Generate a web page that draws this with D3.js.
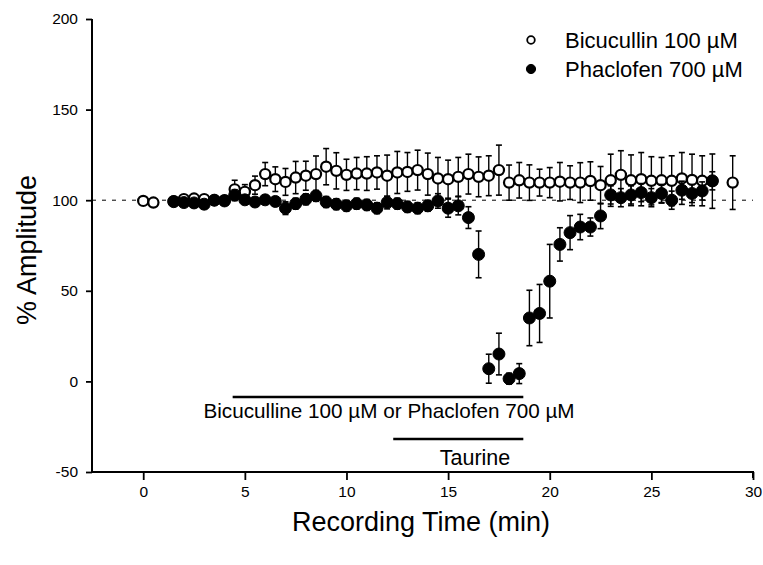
<!DOCTYPE html>
<html>
<head>
<meta charset="utf-8">
<script src="https://cdn.jsdelivr.net/npm/d3@7"></script>
<style>
  html, body { margin: 0; padding: 0; background: #fff; }
  svg { display: block; }
  text { font-family: "Liberation Sans", Arial, Helvetica, sans-serif; fill: #000; }
</style>
</head>
<body>
<svg id="chart" width="763" height="565"></svg>
<script>
// ---- Data ----
const bicTime  = [0, 0.5, 1.5, 2, 2.5, 3, 3.5, 4, 4.5, 5, 5.5, 6, 6.5, 7, 7.5, 8, 8.5, 9, 9.5, 10, 10.5, 11, 11.5, 12, 12.5, 13, 13.5, 14, 14.5, 15, 15.5, 16, 16.5, 17, 17.5, 18, 18.5, 19, 19.5, 20, 20.5, 21, 21.5, 22, 22.5, 23, 23.5, 24, 24.5, 25, 25.5, 26, 26.5, 27, 27.5, 28, 29];
const bicMean  = [99.6, 98.7, 99.5, 100.6, 100.9, 100.6, 100, 100, 106, 104.6, 108.3, 114.4, 111.6, 110.1, 112.5, 113.5, 114.4, 118.5, 116.2, 114, 114.7, 114.7, 115.3, 113.5, 115.3, 115.6, 116.6, 114.4, 112, 111.6, 112.9, 114.4, 112.9, 113.5, 116.6, 109.7, 111, 109.7, 109.7, 109.7, 110.2, 109.7, 109.7, 110.6, 108.3, 111, 114, 111, 111.6, 110.7, 111, 110.7, 112, 111.2, 110.7, 110.5, 109.7];
const bicErr   = [1, 1.5, 1, 1, 1.5, 1.5, 1.5, 1.5, 5, 4, 5, 6.4, 6.8, 7.4, 8.9, 8, 10, 10, 10, 8.6, 8.9, 9.3, 9.2, 11.4, 11.6, 10.7, 11, 11.6, 11.6, 10.5, 10.7, 11, 11, 11, 13.8, 9.7, 9.8, 9.8, 7.4, 8.3, 10.6, 9.3, 11, 10.6, 10.3, 14.4, 13.3, 14, 14.7, 13.3, 12.6, 13.8, 14.3, 14.2, 13.8, 15, 14.8];

const phaTime  = [1.5, 2, 2.5, 3, 3.5, 4, 4.5, 5, 5.5, 6, 6.5, 7, 7.5, 8, 8.5, 9, 9.5, 10, 10.5, 11, 11.5, 12, 12.5, 13, 13.5, 14, 14.5, 15, 15.5, 16, 16.5, 17, 17.5, 18, 18.5, 19, 19.5, 20, 20.5, 21, 21.5, 22, 22.5, 23, 23.5, 24, 24.5, 25, 25.5, 26, 26.5, 27, 27.5, 28];
const phaMean  = [99.2, 98.7, 98.5, 97.8, 100, 99.6, 102.8, 100.2, 99, 100.2, 99.3, 95.6, 98.1, 100.5, 102.4, 99, 97.8, 96.9, 98.1, 97.4, 95.6, 98.7, 98.1, 96.3, 95.6, 96.9, 99.6, 95.6, 96.9, 90.4, 70.1, 7.0, 15.1, 1.5, 4.3, 35, 37.5, 55.3, 75.6, 82.1, 85.2, 85.2, 91.3, 102.9, 101.4, 102.9, 104.2, 101.4, 103.7, 100, 105.5, 103.7, 105.1, 110.7];
const phaErr   = [2, 2, 2, 2.5, 2, 2, 3, 2.5, 2.5, 2.5, 2.5, 3.5, 3, 3, 3, 3, 3, 3, 3, 3, 3, 3.5, 3, 3, 3, 3, 4, 5, 5, 6, 12.9, 8, 11.5, 3, 5.5, 15.3, 16, 20.3, 9.2, 9.4, 7, 5, 7, 5, 5, 5, 5, 5, 5, 5, 5, 5, 5, 5];

const seriesLabels = ["Bicucullin 100 \u00B5M", "Phaclofen 700 \u00B5M"];
const xTicks = [0, 5, 10, 15, 20, 25, 30];
const yTicks = [-50, 0, 50, 100, 150, 200];
const xTitle = "Recording Time (min)";
const yTitle = "% Amplitude";
const barLabels = ["Bicuculline 100 \u00B5M or Phaclofen 700 \u00B5M", "Taurine"];
const barStart = [4.4, 12.3];
const barEnd = [18.7, 18.7];
const baseline = 100;

// ---- Layout ----
const svg = d3.select("#chart");
const pLeft = 92, pRight = 753, pTop = 19, pBottom = 472;
const x = d3.scaleLinear().domain([-2.52, 30]).range([pLeft, pRight]);
const y = d3.scaleLinear().domain([-50, 200]).range([pBottom, pTop]);
const fmt = d => String(d); // plain hyphen-minus like the original

// Axes
const yAxis = svg.append("g").attr("transform", `translate(${pLeft},0)`)
  .call(d3.axisLeft(y).tickValues(yTicks).tickSize(6).tickPadding(8).tickFormat(fmt));
const xAxis = svg.append("g").attr("transform", `translate(0,${pBottom})`)
  .call(d3.axisBottom(x).tickValues(xTicks).tickSize(8).tickPadding(6).tickFormat(fmt));
[yAxis, xAxis].forEach(g => {
  g.select(".domain").attr("stroke", "#000").attr("stroke-width", 2);
  g.selectAll(".tick line").attr("stroke", "#000").attr("stroke-width", 1.8);
  g.selectAll(".tick text").attr("font-size", 15.5).attr("font-family", "Liberation Sans, Arial, sans-serif").attr("fill", "#000");
});
yAxis.select(".domain").attr("d", `M0,${pTop}V${pBottom}`);
xAxis.select(".domain").attr("d", `M${pLeft},0H${pRight}V6`);

// Dashed 100 % line
svg.append("line")
  .attr("x1", pLeft).attr("x2", pRight)
  .attr("y1", y(baseline)).attr("y2", y(baseline))
  .attr("stroke", "#000").attr("stroke-width", 1).attr("stroke-dasharray", "4,6");

// Series drawing
function drawSeries(times, means, errs, filled) {
  const g = svg.append("g");
  const data = times.map((t, i) => ({ t, m: means[i], e: errs[i] }));
  const cap = 3;
  data.forEach(d => {
    if (d.e > 1.6) {
      g.append("line").attr("x1", x(d.t)).attr("x2", x(d.t))
        .attr("y1", y(d.m - d.e)).attr("y2", y(d.m + d.e))
        .attr("stroke", "#000").attr("stroke-width", 1.4);
      [d.m - d.e, d.m + d.e].forEach(v => {
        g.append("line").attr("x1", x(d.t) - cap).attr("x2", x(d.t) + cap)
          .attr("y1", y(v)).attr("y2", y(v))
          .attr("stroke", "#000").attr("stroke-width", 1.6);
      });
    }
  });
  g.selectAll("circle").data(data).enter().append("circle")
    .attr("cx", d => x(d.t)).attr("cy", d => y(d.m))
    .attr("r", filled ? 6 : 5.1)
    .attr("fill", filled ? "#000" : "#fff")
    .attr("stroke", "#000").attr("stroke-width", filled ? 1 : 2.2);
}
drawSeries(bicTime, bicMean, bicErr, false);
drawSeries(phaTime, phaMean, phaErr, true);

// Legend
const legY = [40, 69];
seriesLabels.forEach((lab, i) => {
  svg.append("circle").attr("cx", 531).attr("cy", legY[i]).attr("r", i === 0 ? 3.8 : 4.6)
    .attr("fill", i === 0 ? "#fff" : "#000").attr("stroke", "#000").attr("stroke-width", i === 0 ? 1.8 : 1);
  svg.append("text").attr("x", 565).attr("y", legY[i] + 7.5)
    .attr("font-size", 22).text(lab);
});

// Treatment bars
const barY = [397, 439];
const labY = [418, 465];
barLabels.forEach((lab, i) => {
  svg.append("line").attr("x1", x(barStart[i])).attr("x2", x(barEnd[i]))
    .attr("y1", barY[i]).attr("y2", barY[i])
    .attr("stroke", "#000").attr("stroke-width", 2.6);
});
svg.append("text").attr("x", 389).attr("y", labY[0]).attr("text-anchor", "middle")
  .attr("font-size", 20.7).text(barLabels[0]);
svg.append("text").attr("x", 475).attr("y", labY[1]).attr("text-anchor", "middle")
  .attr("font-size", 21.5).text(barLabels[1]);

// Axis titles
svg.append("text").attr("x", 421).attr("y", 531).attr("text-anchor", "middle")
  .attr("font-size", 27).text(xTitle);
svg.append("text").attr("transform", "translate(36,250) rotate(-90)").attr("text-anchor", "middle")
  .attr("font-size", 27).text(yTitle);
</script>
</body>
</html>
